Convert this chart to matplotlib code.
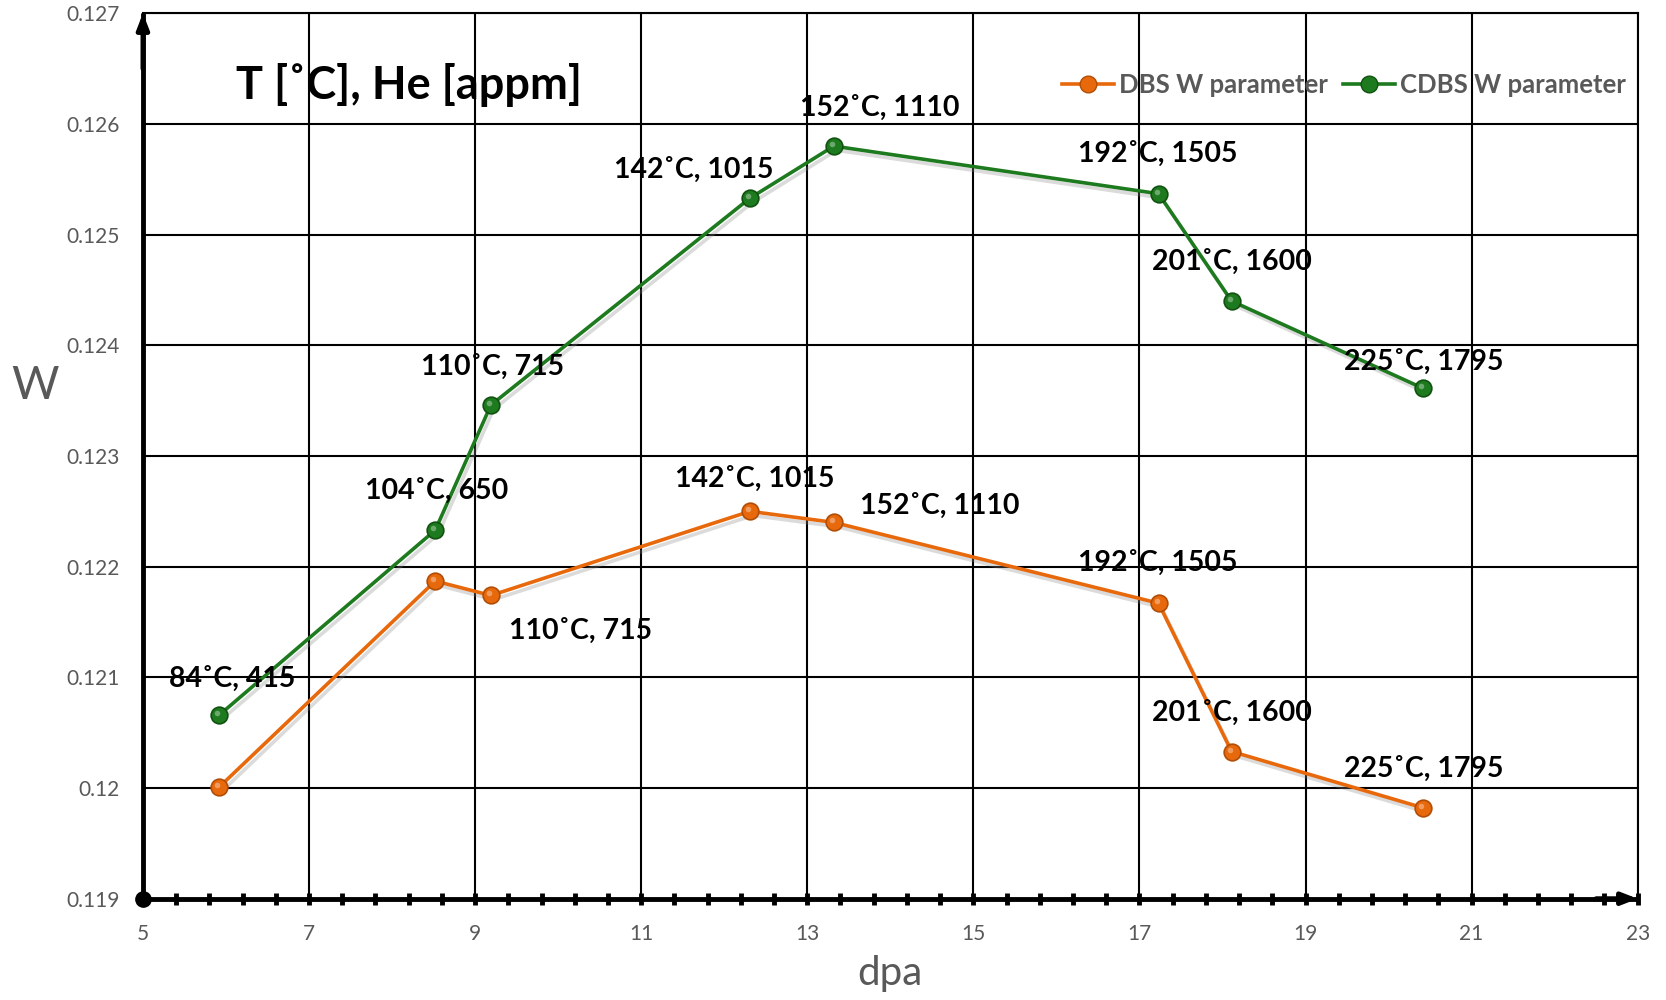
import matplotlib
matplotlib.use("Agg")
import matplotlib.pyplot as plt
import matplotlib.patheffects as pe
from matplotlib.lines import Line2D
from matplotlib.ticker import FixedLocator, MultipleLocator, FuncFormatter
from matplotlib.transforms import ScaledTranslation

plt.rcParams["font.family"] = ["Lato", "DejaVu Sans"]

# dpa dose for each irradiation position
dpa = [5.92, 8.52, 9.19, 12.31, 13.32, 17.23, 18.11, 20.42]

# W parameter measured by CDBS and DBS
w_cdbs = [0.12066, 0.12233, 0.12346, 0.12533, 0.12580, 0.12537, 0.12440, 0.12361]
w_dbs = [0.12001, 0.12187, 0.12174, 0.12250, 0.12240, 0.12167, 0.12033, 0.11982]

# temperature / helium labels
cdbs_labels = ["84˚C, 415", "104˚C, 650", "110˚C, 715", "142˚C, 1015",
               "152˚C, 1110", "192˚C, 1505", "201˚C, 1600", "225˚C, 1795"]
dbs_labels = ["", "", "110˚C, 715", "142˚C, 1015",
              "152˚C, 1110", "192˚C, 1505", "201˚C, 1600", "225˚C, 1795"]

x_major = [5, 7, 9, 11, 13, 15, 17, 19, 21, 23]

# label offsets (pixels) relative to the marker
cdbs_off = [(13, 36), (1, 39), (2, 38), (-56, 28), (46, 38), (-1, 40), (0, 39), (0, 27)]
dbs_off = [(0, 0), (0, 0), (90, -35), (5, 33), (106, 17), (-1, 40), (0, 39), (0, 39)]

ORANGE = "#E8680C"
GREEN = "#1E7A1E"
GREY = "#595959"

fig = plt.figure(figsize=(16.66, 10), dpi=100)
ax = fig.add_axes([0.0858, 0.1013, 0.8972, 0.8854])

ax.set_xlim(5, 23)
ax.set_ylim(0.119, 0.127)
ax.xaxis.set_major_locator(FixedLocator(x_major))
ax.xaxis.set_minor_locator(FixedLocator([5 + 0.4 * i for i in range(46)]))
ax.yaxis.set_major_locator(MultipleLocator(0.001))
ax.yaxis.set_major_formatter(FuncFormatter(lambda v, p: f"{round(v, 3):g}"))

ax.grid(True, which="major", color="black", lw=1.5)
ax.set_axisbelow(True)
for s in ("top", "right"):
    ax.spines[s].set_linewidth(1.5)
for s in ("left", "bottom"):
    ax.spines[s].set_linewidth(3.5)
    ax.spines[s].set_capstyle("butt")

ax.tick_params(axis="x", which="both", direction="inout", length=9, width=3.5,
               color="black", pad=14, labelsize=15, labelcolor=GREY)
ax.tick_params(axis="y", which="both", length=0, pad=17,
               labelsize=15, labelcolor=GREY)

# arrow heads on the axes and the origin dot
arrow = dict(arrowstyle="-|>,head_length=0.9,head_width=0.35", lw=3.5,
             color="black", shrinkA=0, shrinkB=0)
ax.annotate("", xy=(5, 0.127), xytext=(5, 0.1265), arrowprops=arrow,
            annotation_clip=False)
ax.annotate("", xy=(23, 0.119), xytext=(22.5, 0.119), arrowprops=arrow,
            annotation_clip=False)
ax.plot([5], [0.119], "o", color="black", ms=11, clip_on=False, zorder=6)

shadow = [pe.SimpleLineShadow(offset=(2, -3), shadow_color="#888888", alpha=0.3),
          pe.Normal()]
hilite = ax.transData + ScaledTranslation(-0.02, 0.02, fig.dpi_scale_trans)

for ys, col, edge in ((w_dbs, ORANGE, "#B04E08"), (w_cdbs, GREEN, "#115211")):
    ax.plot(dpa, ys, "-", color=col, lw=2.6, zorder=3, path_effects=shadow)
    ax.plot(dpa, ys, "o", ms=12, mfc=col, mec=edge, mew=1.2, zorder=4)
    ax.plot(dpa, ys, "o", ms=4, mfc="white", mec="none", alpha=0.35, zorder=5,
            transform=hilite)

for x, y, lab, off in zip(dpa, w_cdbs, cdbs_labels, cdbs_off):
    if lab:
        ax.annotate(lab, (x, y), xytext=off, textcoords="offset pixels",
                    ha="center", va="center", fontsize=20.5, fontweight="bold",
                    color="black", zorder=7)
for x, y, lab, off in zip(dpa, w_dbs, dbs_labels, dbs_off):
    if lab:
        ax.annotate(lab, (x, y), xytext=off, textcoords="offset pixels",
                    ha="center", va="center", fontsize=20.5, fontweight="bold",
                    color="black", zorder=7)

ax.text(0.062, 0.919, "T [˚C], He [appm]", transform=ax.transAxes,
        ha="left", va="center", fontsize=32.5, fontweight="bold", color="black")

ax.text(-0.072, 0.579, "W", transform=ax.transAxes, ha="center", va="center",
        fontsize=33, color=GREY)
ax.text(0.4998, -0.085, "dpa", transform=ax.transAxes, ha="center", va="center",
        fontsize=29, color=GREY)

handles = [
    Line2D([], [], color=ORANGE, lw=2.6, marker="o", ms=12, mfc=ORANGE, mec="#B04E08"),
    Line2D([], [], color=GREEN, lw=2.6, marker="o", ms=12, mfc=GREEN, mec="#115211"),
]
leg = ax.legend(handles, ["DBS W parameter", "CDBS W parameter"], ncol=2,
                loc="center right", bbox_to_anchor=(0.992, 0.919), frameon=False,
                borderaxespad=0, borderpad=0,
                handlelength=2.0, handletextpad=0.2, columnspacing=0.6,
                prop=dict(size=18.5, weight="bold"))
for t in leg.get_texts():
    t.set_color(GREY)
leg.set_zorder(8)

fig.savefig("out.png", dpi=100)
